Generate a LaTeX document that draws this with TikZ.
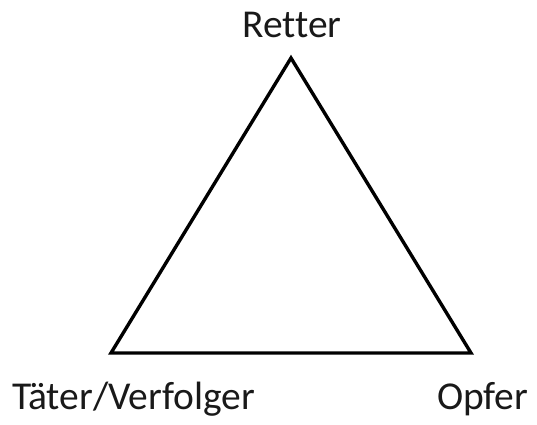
\documentclass[tikz,border=0pt]{standalone}
\usepackage{fontspec}
\setmainfont{Carlito}[Ligatures=NoCommon]
\usepackage{tikz}
\usetikzlibrary{positioning,calc}
\definecolor{DramaInk}{RGB}{0, 0, 0}

\tikzset{
  rolelabel/.style={font=\fontsize{39.5}{46}\selectfont, text=DramaInk!90, inner sep=0pt},
  roleedge/.style={draw=DramaInk, line width=3.4pt}
}

\begin{document}
\begin{tikzpicture}[x=1pt,y=1pt]
      \useasboundingbox (0,0) rectangle (537,424);
      % corners of the triangle
      \coordinate (retterpt) at (291,366);
      \coordinate (taeterpt) at (111,71);
      \coordinate (opferpt) at (471,71);
      \draw[roleedge] (retterpt) -- (taeterpt) -- (opferpt) -- cycle;
      % role names
      \node[rolelabel, anchor=base] (retter) at (292,386) {Retter};
      \node[rolelabel, anchor=base west] (taeter) at (12,15) {Täter/Verfolger};
      \node[rolelabel, anchor=base west] (opfer) at (437,15) {Opfer};
    \end{tikzpicture}
\end{document}
